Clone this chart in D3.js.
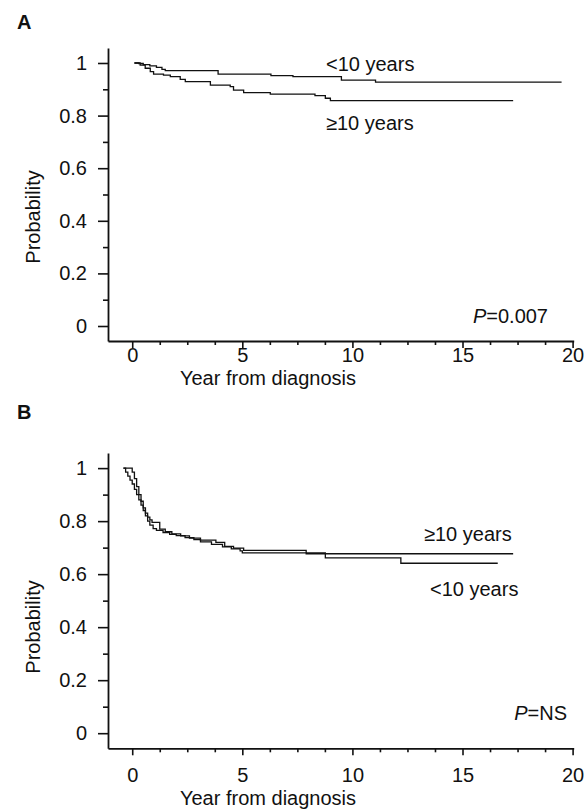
<!DOCTYPE html>
<html>
<head>
<meta charset="utf-8">
<script src="https://cdn.jsdelivr.net/npm/d3@7"></script>
<style>
  html, body { margin: 0; padding: 0; background: #fff; }
  svg { display: block; }
  text { font-family: "Liberation Sans", Arial, sans-serif; fill: #111; }
</style>
</head>
<body>
<svg id="chart" width="588" height="812"></svg>
<script>
// ---------- data ----------
const yMajorTicks = [0, 0.2, 0.4, 0.6, 0.8, 1];
const yTickLabels = ["0", "0.2", "0.4", "0.6", "0.8", "1"];
const yMinorTicks = [0.1, 0.3, 0.5, 0.7, 0.9];
const xMajorTicks = [0, 5, 10, 15, 20];
const xMinorTicks = [1.25, 2.5, 3.75, 6.25, 7.5, 8.75, 11.25, 12.5, 13.75, 16.25, 17.5, 18.75];

// Panel A: Kaplan-Meier step data
const aLt10Time = [0.1, 0.3, 0.5, 0.8, 1.1, 1.35, 1.5, 3.9, 6.3, 7.3, 9.5, 11.05, 19.5];
const aLt10Prob = [1.0, 0.998, 0.994, 0.989, 0.983, 0.976, 0.971, 0.958, 0.952, 0.948, 0.935, 0.927, 0.927];
const aGe10Time = [0.1, 0.36, 0.59, 0.82, 0.97, 1.42, 1.73, 2.18, 2.41, 3.55, 4.45, 4.6, 5.06, 6.27, 8.3, 8.77, 9.0, 17.3];
const aGe10Prob = [1.0, 0.992, 0.98, 0.967, 0.958, 0.954, 0.948, 0.938, 0.929, 0.916, 0.91, 0.897, 0.887, 0.882, 0.876, 0.866, 0.857, 0.857];

// Panel B
const bGe10Time = [-0.4, 0.0, 0.1, 0.2, 0.3, 0.4, 0.5, 0.6, 0.7, 0.8, 0.9, 1.25, 1.5, 1.8, 2.2, 2.6, 3.1, 3.8, 4.2, 4.6, 5.06, 7.9, 17.3];
const bGe10Prob = [1.0, 0.985, 0.96, 0.93, 0.9, 0.875, 0.85, 0.83, 0.815, 0.805, 0.795, 0.77, 0.76, 0.752, 0.744, 0.736, 0.728, 0.72, 0.705, 0.698, 0.69, 0.677, 0.677];
const bLt10Time = [-0.4, -0.3, -0.2, -0.1, 0.0, 0.1, 0.2, 0.3, 0.4, 0.5, 0.6, 0.7, 0.8, 0.95, 1.1, 1.4, 1.7, 2.0, 2.4, 2.8, 3.1, 3.6, 4.1, 4.5, 4.9, 5.0, 8.77, 12.2, 16.6];
const bLt10Prob = [1.0, 0.985, 0.97, 0.955, 0.94, 0.92, 0.9, 0.88, 0.86, 0.84, 0.82, 0.8, 0.785, 0.772, 0.765, 0.757, 0.75, 0.745, 0.738, 0.73, 0.722, 0.712, 0.703, 0.695, 0.688, 0.68, 0.661, 0.641, 0.641];

const panels = [
  { label: "A", labelY: 29, yTop: 48, yBottom: 341,
    series: [{ t: aLt10Time, p: aLt10Prob }, { t: aGe10Time, p: aGe10Prob }],
    notes: [
      { text: "<10 years", x: 326, y: 71 },
      { text: "\u226510 years", x: 326, y: 129.5 }
    ],
    pText: "0.007", pRight: 548, pY: 323, tickLabelY: 361.5, titleY: 384.5, probY: 217 },
  { label: "B", labelY: 419, yTop: 453, yBottom: 748.3,
    series: [{ t: bGe10Time, p: bGe10Prob }, { t: bLt10Time, p: bLt10Prob }],
    notes: [
      { text: "\u226510 years", x: 424, y: 541 },
      { text: "<10 years", x: 430, y: 596 }
    ],
    pText: "NS", pRight: 567, pY: 720, tickLabelY: 782, titleY: 805, probY: 627 }
];

// ---------- drawing ----------
const svg = d3.select("#chart");
const xLeft = 108, xRight = 573.7;
const x = d3.scaleLinear().domain([-1.1, 20.05]).range([xLeft, xRight]);

panels.forEach(pn => {
  const g = svg.append("g");
  const y = d3.scaleLinear().domain([-0.057, 1.057]).range([pn.yBottom, pn.yTop]);

  // panel label
  g.append("text").attr("x", 17).attr("y", pn.labelY)
    .attr("font-size", 20).attr("font-weight", "bold").text(pn.label);

  // y axis
  const yAxisMajor = d3.axisLeft(y).tickValues(yMajorTicks).tickSize(10).tickSizeOuter(0)
    .tickFormat((d, i) => yTickLabels[i]);
  const ya = g.append("g").attr("transform", `translate(${xLeft},0)`).call(yAxisMajor);
  ya.select(".domain").attr("stroke", "#111").attr("stroke-width", 1.8);
  ya.selectAll(".tick line").attr("stroke", "#111").attr("stroke-width", 1.6);
  ya.selectAll(".tick text").attr("font-size", 20).attr("x", -21)
    .attr("font-family", "Liberation Sans, Arial, sans-serif").attr("fill", "#111");

  const yAxisMinor = d3.axisLeft(y).tickValues(yMinorTicks).tickSize(5).tickSizeOuter(0).tickFormat("");
  const ym = g.append("g").attr("transform", `translate(${xLeft},0)`).call(yAxisMinor);
  ym.select(".domain").remove();
  ym.selectAll(".tick line").attr("stroke", "#111").attr("stroke-width", 1.6);

  // x axis
  const xAxisMajor = d3.axisBottom(x).tickValues(xMajorTicks).tickSize(7).tickSizeOuter(0).tickFormat(d3.format("d"));
  const xa = g.append("g").attr("transform", `translate(0,${pn.yBottom})`).call(xAxisMajor);
  xa.select(".domain").attr("stroke", "#111").attr("stroke-width", 1.8);
  xa.selectAll(".tick line").attr("stroke", "#111").attr("stroke-width", 1.6);
  xa.selectAll(".tick text").attr("font-size", 20).attr("dy", null)
    .attr("y", pn.tickLabelY - pn.yBottom)
    .attr("font-family", "Liberation Sans, Arial, sans-serif").attr("fill", "#111");

  const xAxisMinor = d3.axisBottom(x).tickValues(xMinorTicks).tickSize(4).tickSizeOuter(0).tickFormat("");
  const xm = g.append("g").attr("transform", `translate(0,${pn.yBottom})`).call(xAxisMinor);
  xm.select(".domain").remove();
  xm.selectAll(".tick line").attr("stroke", "#111").attr("stroke-width", 1.6);

  // axis titles
  g.append("text").attr("x", 268).attr("y", pn.titleY).attr("text-anchor", "middle")
    .attr("font-size", 20).text("Year from diagnosis");
  g.append("text").attr("transform", `translate(40,${pn.probY}) rotate(-90)`)
    .attr("text-anchor", "middle").attr("font-size", 20).text("Probability");

  // curves
  const line = d3.line().x(d => x(d[0])).y(d => y(d[1])).curve(d3.curveStepAfter);
  pn.series.forEach(s => {
    const pts = s.t.map((t, i) => [t, s.p[i]]);
    g.append("path").datum(pts).attr("d", line)
      .attr("fill", "none").attr("stroke", "#111").attr("stroke-width", 1.3);
  });

  // curve labels
  pn.notes.forEach(n => {
    g.append("text").attr("x", n.x).attr("y", n.y).attr("font-size", 20).text(n.text);
  });

  // P value
  const pt = g.append("text").attr("x", pn.pRight).attr("y", pn.pY)
    .attr("text-anchor", "end").attr("font-size", 20);
  pt.append("tspan").attr("font-style", "italic").text("P");
  pt.append("tspan").text("=" + pn.pText);
});
</script>
</body>
</html>
